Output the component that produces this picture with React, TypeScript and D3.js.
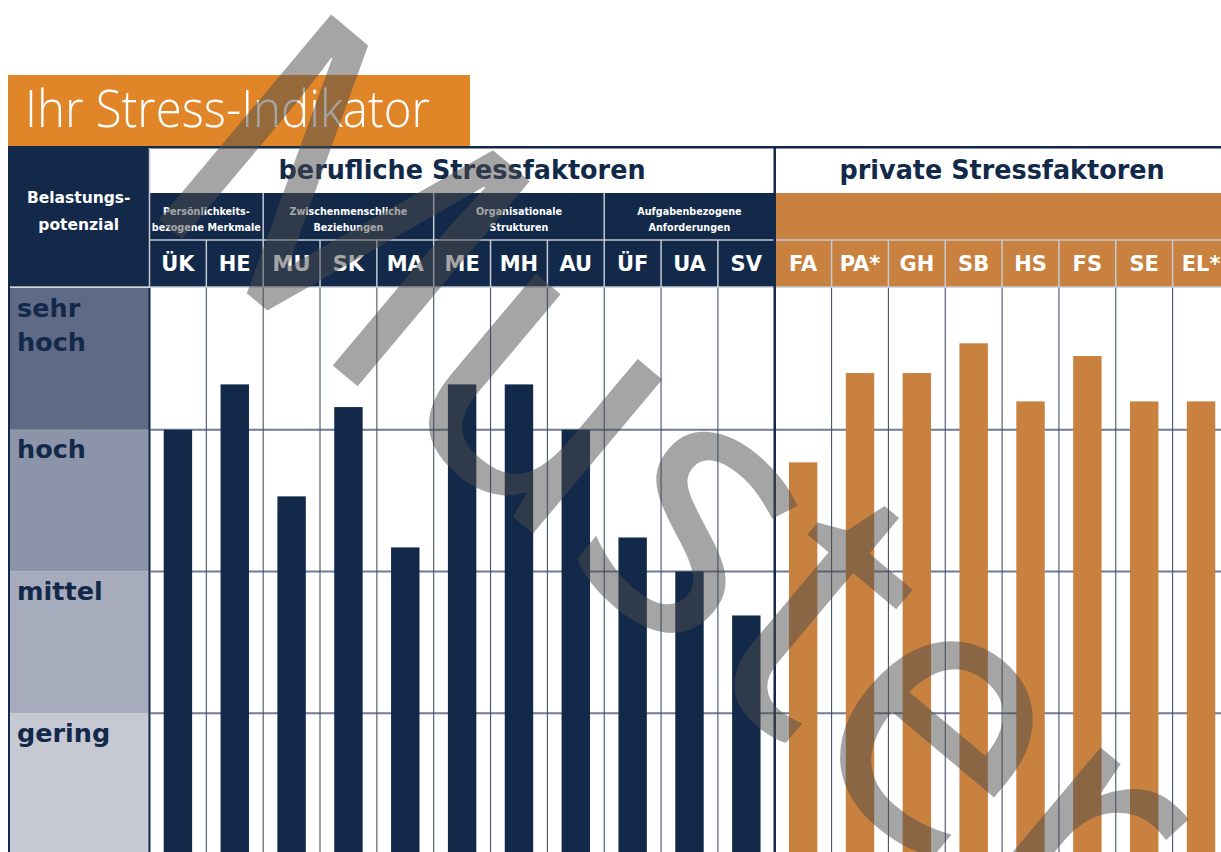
import React from "react";
import * as d3 from "d3";

// ---- data ----
const berufCodes = ["ÜK", "HE", "MU", "SK", "MA", "ME", "MH", "AU", "ÜF", "UA", "SV"];
const berufValues = [3.0, 3.32, 2.53, 3.16, 2.17, 3.32, 3.32, 3.0, 2.24, 2.0, 1.69];
const privatCodes = ["FA", "PA*", "GH", "SB", "HS", "FS", "SE", "EL*"];
const privatValues = [2.77, 3.4, 3.4, 3.61, 3.2, 3.52, 3.2, 3.2];
const groupLabels = [
  ["Persönlichkeits-", "bezogene Merkmale"],
  ["Zwischenmenschliche", "Beziehungen"],
  ["Organisationale", "Strukturen"],
  ["Aufgabenbezogene", "Anforderungen"],
];
const groupSpans = [2, 3, 3, 3];
const levelLabels = [["gering"], ["mittel"], ["hoch"], ["sehr", "hoch"]];
const levelColors = ["#C6C9D3", "#A6ACBC", "#8B94A9", "#5E6A86"];
const sectionTitles = ["berufliche Stressfaktoren", "private Stressfaktoren"];
const title = "Ihr Stress-Indikator";
const leftHeader = ["Belastungs-", "potenzial"];
const watermark = "Muster";

// ---- layout ----
const W = 1221;
const H = 852;
const NAVY = "#12294A";
const ORANGE = "#C8813F";
const TITLE_ORANGE = "#E08628";
const LIGHT = "#C5CAD3";
const GRID = "#6F7C92";
const VLINE = "#44536D";
const BOLD = "'DejaVu Sans', sans-serif";

export default function App() {
  const allCodes = [...berufCodes, ...privatCodes];
  const allValues = [...berufValues, ...privatValues];
  const colW = 56.84;
  const left = 149.5;
  const x = d3
    .scaleBand<string>()
    .domain(allCodes)
    .range([left, left + allCodes.length * colW])
    .paddingInner(0.5)
    .paddingOuter(0.25);
  const step = x.step();
  const colLeft = (c: string) => (x(c) as number) - step * 0.25;
  const colCenter = (c: string) => (x(c) as number) + x.bandwidth() / 2;
  const y = d3.scaleLinear().domain([0, 4]).range([855, 288]);

  const divider = colLeft(privatCodes[0]);
  const headTop = 146;
  const r1 = 193;
  const r2 = 240;
  const r3 = 287;

  // group boundaries
  let acc = 0;
  const groups = groupSpans.map((s, i) => {
    const start = colLeft(berufCodes[acc]);
    const end = start + s * step;
    acc += s;
    return { start, end, label: groupLabels[i] };
  });

  return (
    <svg
      width={W}
      height={H}
      style={{ position: "absolute", left: 0, top: 0, display: "block" }}
    >
      <rect x={0} y={0} width={W} height={H} fill="#fff" />
      {/* title */}
      <rect x={8} y={75} width={462} height={71} fill={TITLE_ORANGE} />
      <text
        x={25}
        y={127}
        fill="#fff"
        fontFamily="'Open Sans', sans-serif"
        fontWeight={300}
        fontSize={52}
        textLength={405}
        lengthAdjust="spacingAndGlyphs"
      >
        {title}
      </text>

      {/* header blocks */}
      <rect x={8} y={headTop} width={W - 8} height={2.5} fill={NAVY} />
      <rect x={8} y={headTop} width={left - 8} height={r3 - headTop} fill={NAVY} />
      <rect x={left} y={r1} width={divider - left} height={r3 - r1} fill={NAVY} />
      <rect x={divider} y={r1} width={W - divider} height={r3 - r1} fill={ORANGE} />

      {/* level bands */}
      {levelColors.map((c, i) => (
        <rect key={i} x={8} y={y(i + 1)} width={left - 8} height={y(i) - y(i + 1)} fill={c} />
      ))}

      {/* horizontal gridlines */}
      {[1, 2, 3].map((v) => (
        <line key={v} x1={left + 1} x2={W} y1={y(v)} y2={y(v)} stroke={GRID} strokeWidth={2} />
      ))}

      {/* vertical column lines in body */}
      {allCodes.slice(1).map((c) => (
        <line key={c} x1={colLeft(c)} x2={colLeft(c)} y1={r3} y2={H} stroke={VLINE} strokeWidth={1.1} />
      ))}

      {/* bars */}
      {allCodes.map((c, i) => (
        <rect
          key={c}
          x={x(c)}
          y={y(allValues[i])}
          width={x.bandwidth()}
          height={y(0) - y(allValues[i])}
          fill={i < berufCodes.length ? NAVY : ORANGE}
        />
      ))}

      {/* light separators in header */}
      <line x1={left} x2={W} y1={r2} y2={r2} stroke={LIGHT} strokeWidth={1.5} />
      <line x1={8} x2={W} y1={r3} y2={r3} stroke={LIGHT} strokeWidth={1.5} />
      <line x1={left} x2={left} y1={headTop + 2} y2={r3} stroke={LIGHT} strokeWidth={1.5} />
      {groups.slice(1).map((g, i) => (
        <line key={i} x1={g.start} x2={g.start} y1={r1} y2={r2} stroke={LIGHT} strokeWidth={1.5} />
      ))}
      {allCodes.slice(1).map((c) => (
        <line key={c} x1={colLeft(c)} x2={colLeft(c)} y1={r2} y2={r3} stroke={LIGHT} strokeWidth={1.5} />
      ))}

      {/* navy borders */}
      <line x1={9} x2={9} y1={headTop} y2={H} stroke={NAVY} strokeWidth={2} />
      <line x1={left} x2={left} y1={r3 + 1} y2={H} stroke={NAVY} strokeWidth={2} />
      <line x1={divider} x2={divider} y1={headTop} y2={H} stroke={NAVY} strokeWidth={2.5} />

      {/* section titles */}
      <text
        x={(left + divider) / 2}
        y={179}
        textAnchor="middle"
        fill={NAVY}
        fontFamily={BOLD}
        fontWeight={700}
        fontSize={27}
        textLength={367}
        lengthAdjust="spacingAndGlyphs"
      >
        {sectionTitles[0]}
      </text>
      <text
        x={(divider + colLeft(privatCodes[0]) + privatCodes.length * step) / 2}
        y={179}
        textAnchor="middle"
        fill={NAVY}
        fontFamily={BOLD}
        fontWeight={700}
        fontSize={27}
        textLength={325}
        lengthAdjust="spacingAndGlyphs"
      >
        {sectionTitles[1]}
      </text>

      {/* group labels */}
      {groups.map((g, i) =>
        g.label.map((l, j) => (
          <text
            key={`${i}-${j}`}
            x={(g.start + g.end) / 2}
            y={214.5 + j * 16.5}
            textAnchor="middle"
            fill="#fff"
            fontFamily={BOLD}
            fontWeight={700}
            fontSize={9.6}
          >
            {l}
          </text>
        ))
      )}

      {/* codes */}
      {allCodes.map((c) => (
        <text
          key={c}
          x={colCenter(c)}
          y={271}
          textAnchor="middle"
          fill="#fff"
          fontFamily={BOLD}
          fontWeight={700}
          fontSize={21}
        >
          {c}
        </text>
      ))}

      {/* left header */}
      {leftHeader.map((l, i) => (
        <text
          key={l}
          x={(8 + left) / 2}
          y={203 + i * 27}
          textAnchor="middle"
          fill="#fff"
          fontFamily={BOLD}
          fontWeight={700}
          fontSize={15.5}
        >
          {l}
        </text>
      ))}

      {/* level labels */}
      {levelLabels.map((lines, i) =>
        lines.map((l, j) => (
          <text
            key={`${i}-${j}`}
            x={17}
            y={y(i + 1) + 28.5 + j * 34}
            fill={NAVY}
            fontFamily={BOLD}
            fontWeight={700}
            fontSize={25.5}
          >
            {l}
          </text>
        ))
      )}

      {/* watermark */}
      <text
        transform="translate(132,197) rotate(40)"
        fill="#4B4B4B"
        fillOpacity={0.5}
        fontFamily="'Noto Sans', sans-serif"
        fontSize={375}
        textLength={1215}
        lengthAdjust="spacingAndGlyphs"
      >
        {watermark}
      </text>
    </svg>
  );
}
